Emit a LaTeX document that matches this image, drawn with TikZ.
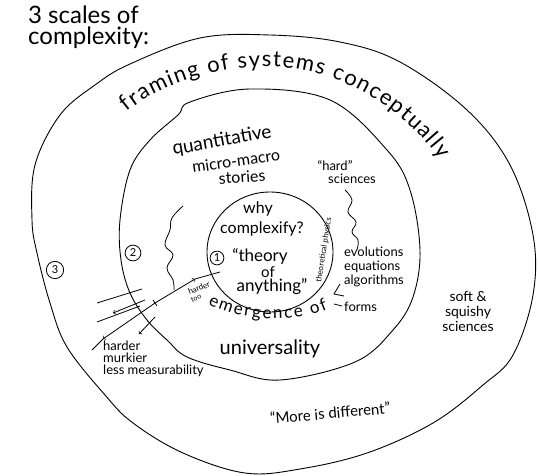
\documentclass[tikz,border=0pt]{standalone}
\usepackage{fontspec}
\setmainfont{Lato}
\usetikzlibrary{arrows,positioning,decorations.text}

\begin{document}
\begin{tikzpicture}[x=1pt,y=-1pt,
    every node/.style={inner sep=0pt},
    loopline/.style={line width=0.9pt},
    pen/.style={line width=0.8pt},
    numcirc/.style={draw,circle,line width=0.8pt,inner sep=1.3pt,font=\fontsize{11}{11}\selectfont},
    hand/.style={font=\fontsize{#1}{#1}\selectfont}]
  \useasboundingbox (0,0) rectangle (538,476);

  % title
  \node[hand=24,anchor=north west,align=left] (title) at (28,6) {3 scales of\\[-3pt]complexity:};

  % the three scales
  \draw[loopline] plot[smooth cycle,tension=0.6] coordinates {
    (130,64) (200,38) (270,35) (340,42) (400,62) (467,110) (510,165) (533,235)
    (533,295) (513,355) (483,385) (433,423) (367,453) (300,469) (245,473)
    (183,453) (133,423) (105,395) (67,347) (50,303) (37,253) (32,220)
    (35,165) (60,115) (95,85)};
  \draw[loopline] plot[smooth cycle,tension=0.6] coordinates {
    (190,102) (250,89) (330,100) (387,150) (410,190) (420,250) (413,297)
    (393,330) (355,362) (280,380) (230,370) (187,357) (167,340) (147,320)
    (130,293) (121,260) (120,220) (130,170) (150,140) (178,115)};
  \draw[loopline] (270,252) ellipse [x radius=63pt,y radius=60pt];

  % circled numbers
  \node[numcirc] (one) at (217,258) {1};
  \node[numcirc,inner sep=2pt] (two) at (133,253) {2};
  \node[numcirc,inner sep=2.5pt] (three) at (55,270) {3};

  % scale 3
  \path[decorate,decoration={text along path,text align={fit to path},
      text={|\fontsize{22}{22}\selectfont|framing of systems conceptually}}]
    (127,112) .. controls (170,76) and (240,62) .. (290,68)
              .. controls (345,74) and (405,110) .. (440,160);
  \node[hand=14,align=center] (soft) at (468,311) {soft \&\\[1pt]squishy\\[1pt]sciences};
  \node[hand=15,rotate=5] (more) at (330,413) {``More is different''};

  % scale 2
  \node[hand=19,rotate=10] (quant) at (222,141) {quantitative};
  \node[hand=16,rotate=8] (micro) at (236,161) {micro-macro};
  \node[hand=16,rotate=4] (stories) at (242,177) {stories};
  \node[hand=13] (hard) at (335,166) {``hard''};
  \node[hand=13,below=3pt of hard.south,xshift=17pt] (hsci) {sciences};
  \node[hand=20] (univ) at (270,349) {universality};
  \node[hand=13,align=left,anchor=west] (evol) at (344,267)
    {evolutions\\[1pt]equations\\[1pt]algorithms};
  \node[hand=13,anchor=west] (forms) at (344,307) {forms};
  \draw[pen] (340,284) -- (334,294) -- (344,296);
  \draw[pen] (334,304) -- (342,306);

  % wiggles
  \draw[pen] plot[smooth,tension=0.7] coordinates {
    (183,206) (172,218) (170,230) (165,245) (173,255) (167,268) (173,280) (174,290)};
  \draw[pen] plot[smooth,tension=0.7] coordinates {
    (345,190) (352,200) (348,212) (356,222) (352,232) (358,240) (357,250)};

  % scale 1
  \node[hand=16] (why) at (258,209) {why};
  \node[hand=16] (cplx) at (262,229) {complexify?};
  \node[hand=17] (theory) at (260,256) {``theory};
  \node[hand=15] (of) at (268,272) {of};
  \node[hand=17] (anything) at (272,287) {anything''};
  \node[hand=8,rotate=81] (phys) at (324,250) {theoretical physics};
  \path[decorate,decoration={text along path,text align={fit to path},
      text={|\fontsize{17}{17}\selectfont|emergence of}}]
    (208,304) .. controls (240,321) and (292,324) .. (328,309);

  % harder
  \coordinate (lineTop) at (220,272);
  \coordinate (tipIn) at (195,279);
  \coordinate (tick) at (155,303);
  \coordinate (tipOut) at (103,339);
  \coordinate (lineEnd) at (92,350);
  \draw[pen,->] (tick) -- (tipIn);
  \draw[pen] (tipIn) -- (lineTop);
  \draw[pen,->] (tick) -- (tipOut);
  \draw[pen] (tipOut) -- (lineEnd);
  \draw[pen] (153,300) -- (157,306);
  \draw[pen] (97,303) -- (142,289);
  \draw[pen,<-] (113,313) -- (145,300);
  \draw[pen] (97,322) -- (140,306);
  \draw[pen,->] (155,317) -- (139,334);
  \node[hand=8,rotate=22] (hardtoo) at (199,288) {harder};
  \node[hand=7,rotate=22] (too) at (196,298) {too};
  \node[hand=13,align=left,anchor=north west] (murky) at (103,341)
    {harder\\[-1pt]murkier\\[-1pt]less measurability};
\end{tikzpicture}
\end{document}
